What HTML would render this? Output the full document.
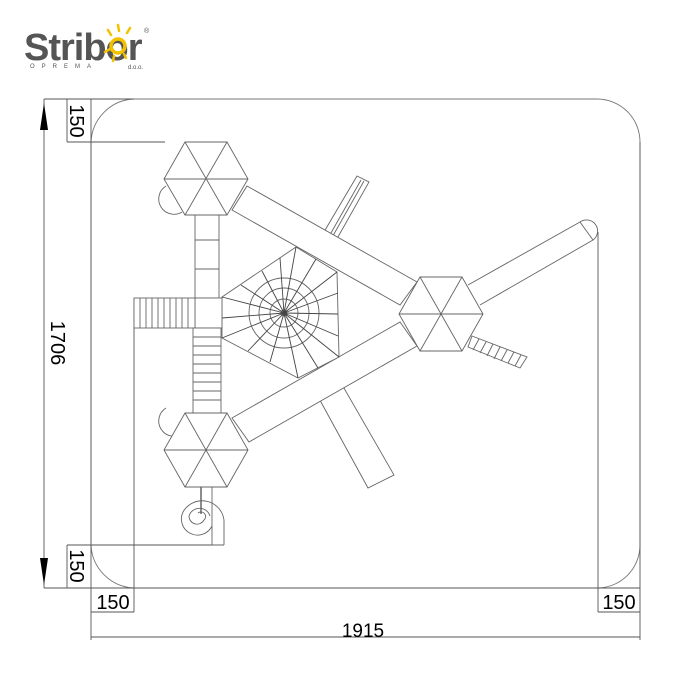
<!DOCTYPE html>
<html><head><meta charset="utf-8"><style>
html,body{margin:0;padding:0;background:#fff;}
svg{display:block;}
text{font-family:"Liberation Sans",Arial,sans-serif;}
</style></head><body>
<svg width="679" height="679" viewBox="0 0 679 679" xmlns="http://www.w3.org/2000/svg">
<!-- logo -->
<text x="24" y="60" font-size="38" font-weight="bold" fill="#555" letter-spacing="-1">Stribor</text>
<g stroke="#f2c200" stroke-width="2.5" stroke-linecap="round">
<line x1="118" y1="25" x2="119" y2="31"/><line x1="130" y1="28" x2="127" y2="33"/>
<line x1="108" y1="30" x2="111" y2="35"/><line x1="105" y1="52" x2="110" y2="49"/>
<line x1="113" y1="61" x2="114" y2="56"/><line x1="126" y1="58" x2="124" y2="54"/>
</g>
<ellipse cx="118" cy="46" rx="7" ry="7" fill="none" stroke="#f2c200" stroke-width="3.5"/>
<text x="144" y="33" font-size="7" fill="#555">®</text>
<text x="30" y="68" font-size="6" fill="#555" letter-spacing="7">OPREMA</text>
<text x="128" y="69" font-size="6" fill="#555">d.o.o.</text>

<g fill="none" stroke="#777" stroke-width="0.9">
<path d="M91 142 A45 45 0 0 1 134 99 L597 99 A43 43 0 0 1 640 142 L640 545 A43 43 0 0 1 597 588 L134 588 A45 45 0 0 1 91 545 Z"/>
</g>
<g fill="none" stroke="#555" stroke-width="0.9">
<line x1="44" y1="99" x2="134" y2="99"/>
<line x1="67" y1="99" x2="67" y2="142"/>
<line x1="67" y1="142" x2="165" y2="142"/>
<line x1="91" y1="99" x2="91" y2="640"/>
<line x1="67" y1="545" x2="224" y2="545"/>
<line x1="67" y1="545" x2="67" y2="588"/>
<line x1="44" y1="588" x2="640" y2="588"/>
<line x1="44" y1="99" x2="44" y2="588"/>
<line x1="134" y1="298" x2="134" y2="612"/>
<line x1="598" y1="232" x2="598" y2="612"/>
<line x1="640" y1="142" x2="640" y2="640"/>
<line x1="91" y1="612" x2="134" y2="612"/>
<line x1="598" y1="612" x2="640" y2="612"/>
<line x1="91" y1="637" x2="640" y2="637"/>
</g>
<polygon points="44,103 40,130 48,130" fill="#000"/>
<polygon points="44,585 40,558 48,558" fill="#000"/>
<g font-size="20" fill="#000">
<text x="363" y="637" text-anchor="middle" font-size="19">1915</text>
<text x="113" y="609" text-anchor="middle">150</text>
<text x="619" y="609" text-anchor="middle">150</text>
<text transform="translate(70,121) rotate(90)" text-anchor="middle">150</text>
<text transform="translate(70,566) rotate(90)" text-anchor="middle">150</text>
<text transform="translate(51,343) rotate(90)" text-anchor="middle">1706</text>
</g>

<g fill="none" stroke="#666" stroke-width="0.9">
<!-- lower slide (under beam) -->
<polygon points="310,382 333,369 394,475 368,488" fill="#fff"/>
<!-- upper pole (under beam) -->
<polygon points="357,176 369,182 334,244 321,237" fill="#fff"/>
<line x1="361" y1="180" x2="327" y2="240"/><line x1="364" y1="181" x2="330" y2="241"/>
<!-- beams -->
<polygon points="247,186 417,282 400,305 232,210" fill="#fff"/>
<polygon points="232,418 400,322 417,346 249,442" fill="#fff"/>
<path d="M468,285 L580,222 A11 11 0 0 1 593,240 L480,305" fill="#fff"/>
<line x1="580" y1="222" x2="593" y2="240"/>
<!-- right ladder -->
<polygon points="472,336 527,357 520,368 468,347" fill="#fff"/>
<g>
<line x1="479" y1="339" x2="473" y2="350"/><line x1="486" y1="342" x2="480" y2="353"/>
<line x1="493" y1="344" x2="487" y2="356"/><line x1="500" y1="347" x2="494" y2="359"/>
<line x1="507" y1="350" x2="501" y2="361"/><line x1="514" y1="352" x2="508" y2="363"/>
<line x1="521" y1="355" x2="515" y2="366"/>
</g>
<!-- web -->
<polygon points="222,297 296,247 337,272 339,357 298,378 222,338" fill="#fff"/>
<circle cx="284" cy="313" r="35"/><circle cx="284" cy="313" r="25"/><circle cx="284" cy="313" r="14"/><circle cx="284" cy="313" r="3"/>
<g stroke="#444">
<line x1="284" y1="313" x2="222" y2="297"/><line x1="284" y1="313" x2="222" y2="318"/><line x1="284" y1="313" x2="222" y2="338"/>
<line x1="284" y1="313" x2="241" y2="285"/><line x1="284" y1="313" x2="262" y2="271"/><line x1="284" y1="313" x2="280" y2="258"/>
<line x1="284" y1="313" x2="296" y2="247"/><line x1="284" y1="313" x2="316" y2="259"/><line x1="284" y1="313" x2="337" y2="272"/>
<line x1="284" y1="313" x2="338" y2="293"/><line x1="284" y1="313" x2="338" y2="314"/><line x1="284" y1="313" x2="338" y2="336"/>
<line x1="284" y1="313" x2="339" y2="357"/><line x1="284" y1="313" x2="318" y2="368"/><line x1="284" y1="313" x2="298" y2="378"/>
<line x1="284" y1="313" x2="270" y2="362"/><line x1="284" y1="313" x2="248" y2="351"/>
</g>
<!-- tower stem -->
<rect x="195" y="215" width="24" height="83" fill="#fff"/>
<line x1="195" y1="240" x2="219" y2="240"/><line x1="195" y1="269" x2="219" y2="269"/>
<rect x="195" y="298" width="27" height="30" fill="#fff"/>
<rect x="134" y="298" width="61" height="30" fill="#fff"/>
<g>
<line x1="140" y1="298" x2="140" y2="328"/><line x1="146" y1="298" x2="146" y2="328"/><line x1="152" y1="298" x2="152" y2="328"/>
<line x1="158" y1="298" x2="158" y2="328"/><line x1="164" y1="298" x2="164" y2="328"/><line x1="170" y1="298" x2="170" y2="328"/>
<line x1="176" y1="298" x2="176" y2="328"/><line x1="182" y1="298" x2="182" y2="328"/><line x1="188" y1="298" x2="188" y2="328"/>
</g>
<rect x="193" y="328" width="28" height="86" fill="#fff"/>
<g>
<line x1="193" y1="337" x2="221" y2="337"/><line x1="193" y1="346" x2="221" y2="346"/><line x1="193" y1="355" x2="221" y2="355"/>
<line x1="193" y1="364" x2="221" y2="364"/><line x1="193" y1="373" x2="221" y2="373"/><line x1="193" y1="382" x2="221" y2="382"/>
<line x1="193" y1="391" x2="221" y2="391"/><line x1="193" y1="400" x2="221" y2="400"/>
</g>
<!-- loops -->
<path d="M166,186 A13 13 0 1 0 182,212"/>
<path d="M166,408 A13 13 0 1 0 182,434"/>
<!-- spiral slide -->
<line x1="201" y1="487" x2="201" y2="514" stroke="#000"/>
<path d="M212,487 L212,545 M224,545 L224,520 A22 22 0 0 0 183,512 A16 16 0 0 0 212,526"/>
<path d="M210,516 A11 11 0 0 0 189,516 A8 8 0 0 0 204,520 A4 4 0 0 0 198,513"/>
<line x1="212" y1="545" x2="224" y2="545"/>
<!-- hexagons -->
<g fill="#fff">
<polygon points="248,179 227,215 185,215 164,179 185,142 227,142"/>
<polygon points="248,450 227,487 185,487 164,450 185,413 227,413"/>
<polygon points="483,314 462,351 420,351 399,314 420,277 462,277"/>
</g>
<line x1="164" y1="179" x2="248" y2="179"/><line x1="185" y1="142" x2="227" y2="215"/><line x1="227" y1="142" x2="185" y2="215"/>
<line x1="164" y1="450" x2="248" y2="450"/><line x1="185" y1="413" x2="227" y2="487"/><line x1="227" y1="413" x2="185" y2="487"/>
<line x1="399" y1="314" x2="483" y2="314"/><line x1="420" y1="277" x2="462" y2="351"/><line x1="462" y1="277" x2="420" y2="351"/>
</g>
</svg>
</body></html>
